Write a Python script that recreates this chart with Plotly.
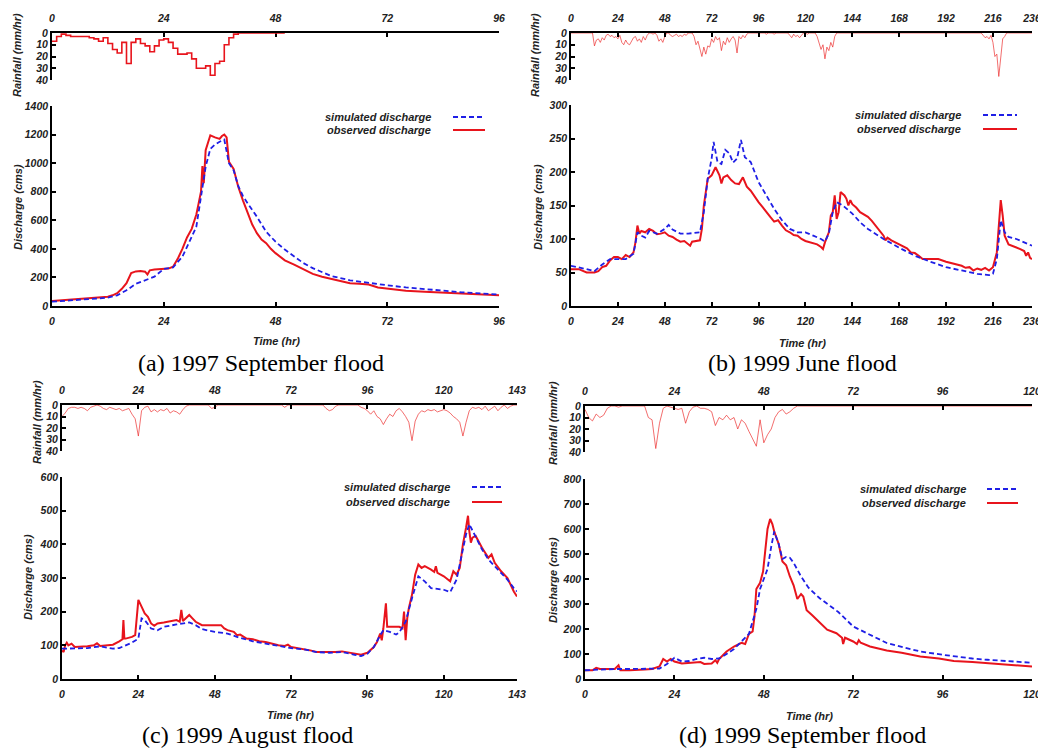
import plotly.graph_objects as go

# ------------------------------------------------------------------ data
# (a) 1997 September flood
rain_hours_a = list(range(0, 51))
rain_a = [7, 3, 1, 2, 3, 3, 3, 3, 4, 5, 7, 4, 9, 14, 17, 8, 26, 8, 5, 9,
          11, 16, 11, 6, 5, 8, 13, 18, 18, 17, 22, 30, 30, 28, 36, 26, 24, 10, 4, 1,
          0, 0, 0, 0, 0, 0, 0, 0, 0, 0, 0]
t_obs_a = [0, 2, 4, 6, 8, 10, 12, 13, 14, 15, 16, 17, 18, 19, 20, 20.5, 21, 22, 23, 24,
           25, 26, 27, 28, 29, 30, 31, 31.5, 32, 32.3, 32.6, 33, 33.5, 34, 35, 36, 36.5, 37, 37.5, 38,
           39, 40, 41, 42, 43, 44, 45, 46, 47, 48, 50, 52, 54, 56, 58, 60, 62, 64, 66, 68,
           70, 72, 74, 76, 80, 84, 88, 92, 96]
q_obs_a = [35, 40, 45, 48, 52, 56, 65, 75, 90, 120, 160, 230, 242, 245, 240, 220, 250, 255, 258, 262,
           262, 275, 330, 400, 480, 540, 640, 720, 800, 980, 860, 1090, 1150, 1195, 1180, 1170, 1190, 1200, 1180, 1010,
           960, 835, 740, 650, 570, 510, 465, 440, 400, 370, 320, 290, 255, 225, 205, 190, 175, 160, 155, 150,
           130, 122, 115, 107, 100, 93, 88, 82, 75]
t_sim_a = [0, 4, 8, 12, 14, 16, 18, 20, 22, 24, 26, 28, 30, 31, 32, 33, 34, 35, 36, 37,
           38, 39, 40, 41, 42, 44, 46, 48, 50, 52, 54, 56, 60, 64, 68, 72, 76, 80, 84, 88,
           92, 96]
q_sim_a = [30, 40, 48, 58, 75, 110, 155, 180, 205, 260, 270, 345, 485, 555, 765, 975, 1100, 1130, 1150, 1165,
           1000, 950, 840, 770, 720, 625, 520, 450, 395, 345, 300, 265, 210, 180, 160, 145, 130, 118, 105, 96,
           88, 80]

# (b) 1999 June flood
rain_hours_b = list(range(0, 237))
rain_b = ([0, 0, 0, 0, 0, 0, 0, 0, 0, 0, 0, 0] +
          [11, 6, 5, 8, 4, 6, 2, 1, 3, 2, 4, 3] +
          [5, 2, 8, 10, 6, 9, 10, 7, 4, 3, 7, 5] +
          [8, 3, 6, 2, 0, 0, 1, 0, 2, 7, 5, 8] +
          [3, 0, 0, 2, 3, 2, 1, 3, 2, 3, 1, 2] +
          [0, 0, 0, 3, 10, 7, 15, 20, 12, 18, 11, 12] +
          [5, 8, 3, 6, 4, 15, 7, 10, 4, 8, 5, 3] +
          [6, 17, 3, 5, 2, 4, 1, 0, 0, 0, 0, 0] +
          [0, 0, 0, 0, 1, 0, 0, 0, 1, 0, 0, 0] +
          [0, 0, 0, 0, 2, 4, 1, 3, 2, 4, 2, 0] +
          [0, 1, 0, 0, 0, 0, 3, 8, 14, 10, 22, 12] +
          [15, 8, 12, 3, 0, 0, 0, 0, 0, 0, 0, 0] +
          [0, 0, 0, 0, 0, 0, 0, 0, 0, 0, 0, 0] +
          [0, 0, 0, 0, 0, 0, 0, 0, 0, 0, 0, 0] +
          [0, 0, 0, 0, 0, 0, 0, 0, 0, 0, 0, 0] +
          [0, 0, 0, 0, 0, 0, 0, 0, 0, 0, 0, 0] +
          [0, 0, 0, 0, 0, 0, 0, 0, 0, 0, 0, 0] +
          [0, 0, 0, 0, 0, 0, 0, 2, 4, 3, 5, 2] +
          [8, 20, 18, 37, 20, 5, 3, 0, 0, 0, 0, 0] +
          [0, 0, 0, 0, 0, 0, 0, 0, 0])
t_obs_b = [0, 4, 8, 12, 14, 16, 18, 20, 22, 24, 26, 28, 30, 32, 33, 34, 35, 36, 38, 40,
           42, 44, 46, 48, 50, 52, 54, 56, 58, 60, 61, 62, 64, 66, 67, 68, 70, 72, 74, 76,
           77, 78, 80, 82, 84, 86, 88, 90, 92, 94, 96, 98, 100, 102, 104, 106, 108, 110, 112, 114,
           116, 118, 120, 122, 124, 126, 128, 129, 130, 132, 133, 134, 135, 136, 137, 138, 140, 141, 142, 143,
           144, 146, 148, 150, 152, 154, 156, 158, 160, 161, 162, 164, 166, 168, 170, 172, 174, 176, 178, 180,
           184, 188, 192, 196, 200, 202, 204, 206, 208, 210, 212, 214, 216, 218, 219, 220, 221, 222, 224, 226,
           228, 230, 232, 233, 234, 235, 236]
q_obs_b = [55, 55, 50, 50, 52, 58, 60, 68, 73, 73, 70, 76, 73, 80, 95, 120, 108, 112, 110, 115,
           112, 107, 108, 110, 105, 103, 99, 96, 97, 93, 90, 96, 97, 98, 115, 150, 190, 195, 207, 195,
           183, 192, 195, 188, 183, 182, 192, 178, 172, 163, 155, 148, 140, 133, 126, 128, 120, 113, 110, 106,
           105, 100, 97, 95, 93, 92, 88, 85, 95, 110, 135, 140, 165, 130, 140, 170, 165, 160, 150, 158,
           152, 147, 140, 137, 133, 127, 120, 112, 105, 98, 102, 98, 95, 92, 88, 86, 80, 79, 75, 70,
           70, 70, 66, 63, 60, 57, 58, 53, 56, 54, 57, 53, 58, 80, 120, 158, 135, 105, 92, 90,
           88, 85, 82, 75, 80, 72, 70]
t_sim_b = [0, 4, 8, 12, 16, 20, 24, 28, 32, 34, 36, 38, 40, 44, 48, 50, 52, 56, 60, 64,
           66, 68, 70, 72, 73, 75, 77, 79, 81, 83, 85, 87, 89, 92, 94, 96, 100, 104, 108, 112,
           116, 120, 124, 128, 130, 132, 134, 136, 138, 140, 144, 148, 152, 156, 160, 168, 176, 184, 192, 200,
           208, 214, 216, 218, 219, 220, 222, 224, 228, 232, 236]
q_sim_b = [60, 58, 55, 52, 62, 70, 70, 70, 78, 110, 105, 102, 112, 108, 115, 121, 114, 108, 108, 110,
           110, 140, 190, 220, 245, 215, 212, 233, 228, 214, 220, 248, 222, 215, 200, 185, 165, 145, 128, 115,
           110, 110, 105, 100, 96, 108, 140, 155, 152, 148, 138, 125, 115, 107, 100, 87, 75, 66, 58, 53,
           48, 46, 48, 70, 105, 128, 110, 103, 100, 95, 90]

# (c) 1999 August flood
rain_hours_c = list(range(0, 144))
rain_c = ([10, 7, 3, 2, 2, 3, 2, 3, 5, 2, 1, 0] +
          [1, 3, 4, 2, 3, 4, 3, 5, 4, 3, 8, 12] +
          [27, 5, 2, 1, 6, 4, 6, 4, 5, 3, 7, 5] +
          [6, 8, 4, 1, 0, 0, 0, 0, 0, 0, 0, 3] +
          [2, 0, 0, 0, 0, 0, 0, 0, 0, 0, 0, 0] +
          [0, 0, 0, 0, 0, 0, 0, 0, 0, 0, 2, 0] +
          [0, 0, 0, 0, 0, 0, 0, 0, 0, 0, 0, 3] +
          [5, 4, 1, 0, 0, 0, 0, 0, 0, 0, 2, 3] +
          [5, 8, 5, 10, 12, 17, 12, 8, 10, 5, 3, 6] +
          [10, 15, 31, 14, 8, 5, 6, 4, 5, 4, 6, 5] +
          [4, 5, 7, 10, 12, 15, 27, 15, 5, 2, 3, 2] +
          [4, 1, 5, 3, 1, 5, 2, 0, 3, 1, 0, 0])
t_obs_c = [0, 0.5, 1, 1.5, 2, 3, 4, 6, 8, 10, 11, 12, 14, 16, 18, 19, 19.3, 19.6, 20, 22,
           23, 23.5, 24, 25, 26, 27, 28, 29, 30, 32, 34, 36, 37, 37.5, 38, 40, 41, 42, 44, 46,
           48, 50, 51, 52, 54, 55, 56, 58, 60, 62, 64, 66, 68, 70, 71, 72, 74, 76, 78, 80,
           82, 84, 86, 88, 90, 92, 94, 96, 98, 99, 100, 100.5, 101, 101.8, 102.2, 104, 106, 107, 107.5, 108,
           108.5, 109, 110, 111, 112, 113, 114, 116, 117, 117.5, 118, 120, 122, 123, 124, 125, 126, 127, 127.6, 128,
           128.5, 129, 130, 132, 134, 135, 136, 138, 140, 142, 143]
q_obs_c = [85, 80, 100, 108, 100, 105, 95, 95, 97, 100, 106, 98, 100, 102, 112, 118, 175, 120, 120, 125,
           130, 180, 235, 215, 195, 185, 165, 158, 165, 168, 172, 175, 170, 205, 172, 190, 180, 170, 160, 160,
           160, 160, 150, 145, 140, 130, 132, 120, 118, 112, 110, 105, 100, 98, 102, 95, 92, 88, 85, 80,
           80, 78, 80, 82, 78, 75, 72, 78, 95, 110, 135, 115, 150, 225, 155, 155, 155, 150, 200, 115,
           180, 210, 250, 310, 340, 330, 335, 325, 318, 335, 315, 305, 290, 320, 310, 330, 400, 450, 485, 440,
           405, 420, 425, 390, 360, 370, 345, 320, 300, 260, 245]
t_sim_c = [0, 4, 8, 12, 16, 18, 20, 22, 24, 25, 26, 28, 30, 32, 36, 40, 42, 44, 48, 52,
           56, 60, 64, 68, 72, 76, 80, 84, 88, 92, 94, 96, 98, 100, 101, 103, 105, 106, 108, 110,
           112, 114, 116, 120, 122, 124, 126, 127, 128, 130, 132, 134, 136, 138, 140, 142, 143]
q_sim_c = [90, 92, 92, 97, 90, 92, 100, 108, 120, 180, 175, 150, 145, 155, 162, 168, 160, 148, 140, 135,
           122, 112, 105, 98, 92, 88, 80, 78, 80, 72, 68, 75, 95, 130, 145, 140, 132, 138, 170, 240,
           305, 290, 270, 265, 258, 295, 380, 430, 460, 420, 385, 355, 335, 315, 295, 270, 260]

# (d) 1999 September flood
rain_hours_d = list(range(0, 121))
rain_d = ([3, 10, 13, 7, 10, 8, 2, 0, 0, 1, 0, 0] +
          [0, 0, 0, 0, 0, 10, 12, 37, 15, 2, 0, 1] +
          [2, 3, 2, 15, 5, 1, 0, 2, 2, 3, 5, 17] +
          [10, 12, 8, 12, 10, 20, 12, 15, 22, 28, 35, 12] +
          [32, 25, 20, 10, 5, 3, 7, 5, 2, 0, 0, 0] +
          [0] * 61)
t_obs_d = [0, 2, 3, 4, 6, 8, 9, 9.5, 12, 14, 16, 18, 20, 21, 22, 23, 24, 26, 28, 30,
           31, 32, 34, 35, 35.5, 36, 38, 40, 42, 43, 44, 45, 45.5, 46, 47, 47.8, 48.5, 49, 49.7, 50.3,
           50.8, 52, 53, 54, 55, 56, 57, 58, 58.6, 59.5, 61, 63, 65, 67.5, 69, 69.3, 69.8, 72, 73, 73.5,
           74, 76.5, 81, 85, 90, 95, 99, 104, 108, 112, 116, 120]
q_obs_d = [35, 35, 45, 40, 40, 40, 55, 35, 35, 35, 38, 40, 50, 80, 70, 80, 70, 62, 65, 65,
           68, 60, 62, 75, 65, 80, 110, 130, 145, 140, 180, 190, 250, 360, 385, 430, 520, 600, 640, 620,
           590, 540, 470, 455, 410, 375, 320, 340, 330, 275, 255, 225, 197, 183, 165, 140, 165, 150, 140, 155,
           145, 130, 114, 105, 90, 82, 72, 68, 64, 60, 56, 50]
t_sim_d = [0, 4, 8, 12, 16, 20, 22, 24, 26, 28, 30, 32, 34, 36, 38, 40, 42, 44, 46, 47,
           48, 49, 50, 50.8, 52, 53, 54, 55, 56, 58, 60, 63, 66, 68, 72, 76, 81, 86, 90, 96,
           100, 104, 108, 112, 116, 120]
q_sim_d = [35, 38, 40, 40, 40, 42, 60, 85, 70, 72, 80, 85, 80, 82, 100, 120, 150, 180, 280, 360,
           400, 440, 530, 590, 540, 480, 488, 485, 465, 410, 365, 323, 290, 268, 210, 180, 144, 125, 110, 97,
           88, 82, 77, 72, 68, 65]

captions = ["(a) 1997 September flood", "(b) 1999 June flood",
            "(c) 1999 August flood", "(d) 1999 September flood"]
legend_labels = ["simulated discharge", "observed discharge"]

# ------------------------------------------------------------------ layout geometry
# positions below are in pixels of the target picture; the page body has an
# 8px margin, so the figure itself is placed 8px in from the top-left corner.
OFF = 8
W, H = 1046 - OFF, 751 - OFF
panels = [
    dict(rh=rain_hours_a, r=rain_a, to=t_obs_a, qo=q_obs_a, ts=t_sim_a, qs=q_sim_a, step=True,
         x0=52, x1=499, rt=33, rb=80, qt=106, qb=306, qmax=1400, dq=200, xmax=96,
         xt=[0, 24, 48, 72, 96], cap=(261, 363), tt=(277, 341), dt=(18, 207), rtl=(17, 55),
         leg=(433, 117, 130, 453, 485)),
    dict(rh=rain_hours_b, r=rain_b, to=t_obs_b, qo=q_obs_b, ts=t_sim_b, qs=q_sim_b, step=False,
         x0=571, x1=1032, rt=33, rb=80, qt=105, qb=306, qmax=300, dq=50, xmax=236,
         xt=[0, 24, 48, 72, 96, 120, 144, 168, 192, 216, 236], cap=(802, 363), tt=(802, 343),
         dt=(538, 207), rtl=(535, 55), leg=(963, 115, 129, 983, 1017)),
    dict(rh=rain_hours_c, r=rain_c, to=t_obs_c, qo=q_obs_c, ts=t_sim_c, qs=q_sim_c, step=False,
         x0=62, x1=517, rt=405, rb=451, qt=477, qb=679, qmax=600, dq=100, xmax=143,
         xt=[0, 24, 48, 72, 96, 120, 143], cap=(247, 735), tt=(290, 715), dt=(28, 577),
         rtl=(37, 422), leg=(452, 487, 502, 472, 502)),
    dict(rh=rain_hours_d, r=rain_d, to=t_obs_d, qo=q_obs_d, ts=t_sim_d, qs=q_sim_d, step=False,
         x0=585, x1=1032, rt=406, rb=452, qt=479, qb=679, qmax=800, dq=100, xmax=120,
         xt=[0, 24, 48, 72, 96, 120], cap=(802, 735), tt=(809, 716), dt=(553, 580),
         rtl=(553, 423), leg=(968, 489, 503, 987, 1018)),
]

FONT = "Liberation Sans, Arial, sans-serif"
TF = dict(family=FONT, size=10.5, color="#222222", weight="bold", style="italic")
LF = dict(family=FONT, size=11, color="#222222", weight="bold", style="italic")
CF = dict(family="Liberation Serif, Times New Roman, serif", size=24, color="black")
RED = "#e8141c"
BLUE = "#1f1fe6"

fig = go.Figure()
layout = dict(width=W, height=H, margin=dict(l=0, r=0, t=0, b=0, autoexpand=False),
              paper_bgcolor="white", plot_bgcolor="white", showlegend=False)
annotations = []
shapes = []


def fx(p):
    return (p - OFF) / W


def fy(p):
    return 1 - (p - OFF) / H


def note(text, x, y, font, angle=0, xanchor="center"):
    return dict(text=text, x=fx(x), y=fy(y), xref="paper", yref="paper", showarrow=False,
                xanchor=xanchor, yanchor="middle", textangle=angle, font=font)


for i, p in enumerate(panels):
    rn = 2 * i + 1
    qn = 2 * i + 2
    rs = "" if rn == 1 else str(rn)
    qs = str(qn)

    # rainfall
    fig.add_trace(go.Scatter(
        x=p["rh"], y=p["r"], xaxis="x" + rs, yaxis="y" + rs, mode="lines",
        line=dict(color=RED if p["step"] else "rgba(235,40,40,0.85)",
                  width=1.6 if p["step"] else 0.8,
                  shape="hv" if p["step"] else "linear"),
        hoverinfo="skip"))
    # observed
    fig.add_trace(go.Scatter(
        x=p["to"], y=p["qo"], xaxis="x" + qs, yaxis="y" + qs, mode="lines",
        line=dict(color=RED, width=2), name=legend_labels[1]))
    # simulated
    fig.add_trace(go.Scatter(
        x=p["ts"], y=p["qs"], xaxis="x" + qs, yaxis="y" + qs, mode="lines",
        line=dict(color=BLUE, width=1.8, dash="5px,3px"), name=legend_labels[0]))

    xdom = [fx(p["x0"]), fx(p["x1"])]
    axis_common = dict(showline=True, linecolor="black", showgrid=False, zeroline=False,
                       ticks="inside", ticklen=4, tickwidth=1.5, tickcolor="black",
                       tickfont=TF, automargin=False)
    layout["xaxis" + rs] = dict(axis_common, domain=xdom, range=[0, p["xmax"]], side="top",
                                anchor="y" + rs, tickvals=p["xt"], linewidth=2.2,
                                ticklabelstandoff=5,
                                layer="below traces" if p["step"] else "above traces")
    layout["yaxis" + rs] = dict(axis_common, domain=[fy(p["rb"]), fy(p["rt"])], range=[40, 0],
                                anchor="x" + rs, tickvals=[0, 10, 20, 30, 40], linewidth=2)
    layout["xaxis" + qs] = dict(axis_common, domain=xdom, range=[0, p["xmax"]],
                                anchor="y" + qs, tickvals=p["xt"], linewidth=1.6,
                                ticklabelstandoff=5)
    layout["yaxis" + qs] = dict(axis_common, domain=[fy(p["qb"]), fy(p["qt"])],
                                range=[0, p["qmax"]], dtick=p["dq"], tick0=0,
                                anchor="x" + qs, linewidth=1.6)

    # captions and titles
    annotations.append(note(captions[i], p["cap"][0], p["cap"][1], CF))
    annotations.append(note("Time (hr)", p["tt"][0], p["tt"][1], LF))
    annotations.append(note("Discharge (cms)", p["dt"][0], p["dt"][1], LF, angle=-90))
    annotations.append(note("Rainfall (mm/hr)", p["rtl"][0], p["rtl"][1], LF, angle=-90))
    # legend
    lx, ly1, ly2, sx0, sx1 = p["leg"]
    for lab, ly, col, dash, lw in [(legend_labels[0], ly1, BLUE, "5px,3px", 1.8),
                                   (legend_labels[1], ly2, RED, "solid", 2)]:
        annotations.append(note(lab, lx, ly, LF, xanchor="right"))
        shapes.append(dict(type="line", xref="paper", yref="paper",
                           x0=fx(sx0), x1=fx(sx1), y0=fy(ly), y1=fy(ly),
                           line=dict(color=col, width=lw, dash=dash)))

layout["annotations"] = annotations
layout["shapes"] = shapes
fig.update_layout(**layout)
fig.write_html("out.html")
